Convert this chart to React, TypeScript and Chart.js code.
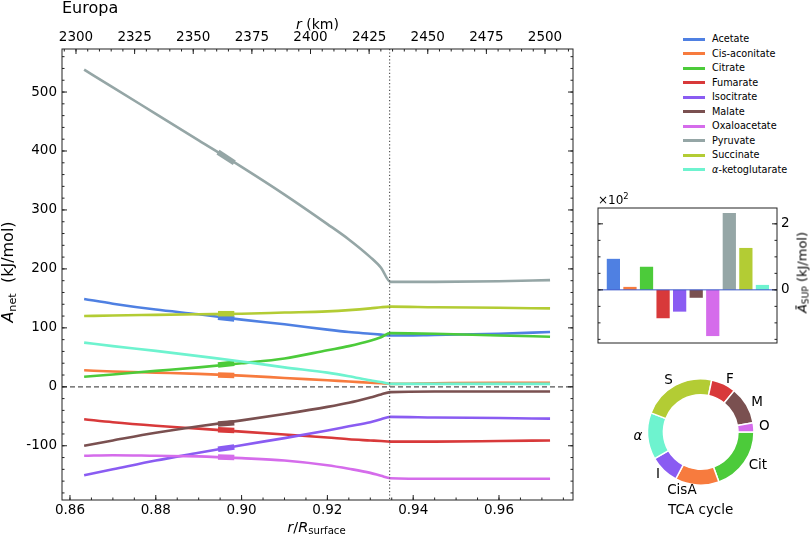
import { useEffect, useRef } from "react"
import { Chart, registerables } from "chart.js"

Chart.register(...registerables)

const FONT = "DejaVu Sans"

// r / R_surface sample positions shared by every series
const ratio = [0.8633, 0.87, 0.88, 0.89, 0.9, 0.91, 0.92, 0.925, 0.93, 0.9325, 0.9347, 0.945, 0.96, 0.9719]

// A_net (kJ/mol)
const acetate = [149, 141, 131, 123, 114, 106, 97, 93, 90, 88.5, 87, 88, 90, 93]
const cisAconitate = [28, 26, 24, 22, 19, 15, 11, 9, 7, 6, 5, 6, 7, 7]
const citrate = [17, 21, 27, 33, 40, 48, 62, 69, 78, 84, 91, 90, 87, 85]
const fumarate = [-55, -60, -66, -71, -76, -81, -86, -89, -91, -92, -93, -93, -92, -91]
const isocitrate = [-150, -140, -125, -112, -99, -87, -74, -67, -60, -55, -51, -52, -53, -54]
const malate = [-100, -91, -78, -67, -57, -46, -34, -27, -18, -13, -9, -8, -8, -8]
const oxaloacetate = [-117, -116, -117, -118, -121, -125, -133, -139, -146, -151, -155, -156, -156, -156]
const pyruvate = [538, 508, 463, 418, 373, 326, 276, 250, 220, 202, 178, 178, 179, 181]
const succinate = [120, 121, 122, 123, 124, 126, 128, 130, 133, 135, 136, 135, 134, 133]
const alphaKeto = [75, 69, 61, 52, 43, 33, 24, 18, 11, 8, 5, 5, 5, 5]

const seriesNames = ["Acetate", "Cis-aconitate", "Citrate", "Fumarate", "Isocitrate", "Malate", "Oxaloacetate", "Pyruvate", "Succinate", "α-ketoglutarate"]
const seriesColors = ["#4f80e2", "#f77b3e", "#4ccb3a", "#d8393a", "#8a5cf2", "#7a5050", "#d56ceb", "#95a6a6", "#b3cc34", "#6ef3cf"]
const seriesValues = [acetate, cisAconitate, citrate, fumarate, isocitrate, malate, oxaloacetate, pyruvate, succinate, alphaKeto]

// short thick segments drawn on the curves
const markerRatio = [0.8945, 0.8983]
const markerValues = [[118, 115], [20, 19], [37, 40], [-73, -74], [-106, -102], [-63, -61], [-119, -120], [398, 380], [124, 124], null]

const boundaryRatio = 0.9345

const xTicks = [0.86, 0.88, 0.9, 0.92, 0.94, 0.96]
const rTicks = [2300, 2325, 2350, 2375, 2400, 2425, 2450, 2475, 2500]
const yTicks = [-100, 0, 100, 200, 300, 400, 500]

// mean A_SUP (kJ/mol), same order as seriesNames
const supValues = [94, 9, 70, -86, -66, -24, -140, 233, 127, 15]
const supTicks = [0, 2]

// TCA ring, clockwise from 3 o'clock (degrees)
const tcaLabels = ["Cit", "CisA", "I", "α", "S", "F", "M", "O"]
const tcaShares = [70, 48, 32, 51, 81, 27, 41, 10]
const tcaColors = ["#4ccb3a", "#f77b3e", "#8a5cf2", "#6ef3cf", "#b3cc34", "#d8393a", "#7a5050", "#d56ceb"]

function steps(from: number, to: number, step: number) {
  const out: number[] = []
  for (let v = from; v <= to + 1e-9; v += step) out.push(+v.toFixed(6))
  return out
}

function seg(ctx: CanvasRenderingContext2D, x1: number, y1: number, x2: number, y2: number) {
  ctx.beginPath()
  ctx.moveTo(x1, y1)
  ctx.lineTo(x2, y2)
  ctx.stroke()
}

function yMarks(ctx: CanvasRenderingContext2D, a: any, scale: any, values: number[], len: number) {
  values.forEach((v) => {
    const p = scale.getPixelForValue(v)
    if (p < a.top - 0.5 || p > a.bottom + 0.5) return
    seg(ctx, a.left, p, a.left + len, p)
    seg(ctx, a.right, p, a.right - len, p)
  })
}

function xMarks(ctx: CanvasRenderingContext2D, a: any, scale: any, values: number[], len: number, top: boolean) {
  values.forEach((v) => {
    const p = scale.getPixelForValue(v)
    if (p < a.left - 0.5 || p > a.right + 0.5) return
    if (top) seg(ctx, p, a.top, p, a.top + len)
    else seg(ctx, p, a.bottom, p, a.bottom - len)
  })
}

const mainFrame = {
  id: "mainFrame",
  afterDatasetsDraw(chart: any) {
    const { ctx, chartArea: a, scales } = chart
    const y0 = scales.y.getPixelForValue(0)
    const xb = scales.x.getPixelForValue(boundaryRatio)
    ctx.save()
    ctx.strokeStyle = "#555"
    ctx.lineWidth = 1.3
    ctx.setLineDash([5, 3])
    seg(ctx, a.left, y0, a.right, y0)
    ctx.lineWidth = 1.2
    ctx.setLineDash([1.2, 2.2])
    seg(ctx, xb, a.top, xb, a.bottom)
    ctx.restore()
  },
  afterDraw(chart: any) {
    const { ctx, chartArea: a, scales } = chart
    ctx.save()
    ctx.strokeStyle = "#222"
    ctx.lineWidth = 1
    ctx.strokeRect(a.left, a.top, a.right - a.left, a.bottom - a.top)
    yMarks(ctx, a, scales.y, yTicks, 5)
    yMarks(ctx, a, scales.y, steps(-180, 560, 20), 2.5)
    xMarks(ctx, a, scales.x, xTicks, 5, false)
    xMarks(ctx, a, scales.x, steps(0.86, 0.975, 0.005), 2.5, false)
    xMarks(ctx, a, scales.x2, rTicks, 5, true)
    xMarks(ctx, a, scales.x2, steps(2295, 2510, 5), 2.5, true)
    ctx.restore()
  },
}

const tickFont = { family: FONT, size: 13.5 }

function MainChart() {
  const chartRef = useRef<HTMLCanvasElement>(null)
  const chartInstance = useRef<Chart | null>(null)

  useEffect(() => {
    if (!chartRef.current) return
    if (chartInstance.current) chartInstance.current.destroy()
    const ctx = chartRef.current.getContext("2d")
    if (!ctx) return

    const n = seriesNames.length
    const lines = seriesNames.map((name, i) => ({
      label: name,
      data: ratio.map((x, j) => ({ x, y: seriesValues[i][j] })),
      borderColor: seriesColors[i],
      borderWidth: 2.6,
      pointRadius: 0,
      cubicInterpolationMode: "monotone",
      order: n - i,
    }))
    const markers: any[] = []
    markerValues.forEach((vals, i) => {
      if (!vals) return
      markers.push({
        label: seriesNames[i] + " marker",
        data: markerRatio.map((x, j) => ({ x, y: vals[j] })),
        borderColor: seriesColors[i],
        borderWidth: 5.5,
        borderCapStyle: "butt",
        pointRadius: 0,
        order: n - i,
      })
    })

    chartInstance.current = new Chart(ctx, {
      type: "line",
      data: { datasets: [...lines, ...markers] as any },
      plugins: [mainFrame],
      options: {
        animation: false,
        responsive: false,
        events: [],
        layout: { padding: { left: 0, right: 27, top: 0, bottom: 0 } },
        plugins: { legend: { display: false }, tooltip: { enabled: false } },
        scales: {
          x: {
            type: "linear",
            position: "bottom",
            min: 0.85814,
            max: 0.97725,
            afterBuildTicks: (s: any) => { s.ticks = xTicks.map((value) => ({ value })) },
            afterFit: (s: any) => { s.height = 36 },
            ticks: { font: tickFont, color: "#000", padding: 2, maxRotation: 0, autoSkip: false, callback: (v: any) => Number(v).toFixed(2) },
            grid: { display: false, drawTicks: false },
            border: { display: false },
          },
          x2: {
            type: "linear",
            position: "top",
            min: 2294.03,
            max: 2511.94,
            afterBuildTicks: (s: any) => { s.ticks = rTicks.map((value) => ({ value })) },
            afterFit: (s: any) => { s.height = 49 },
            ticks: { font: tickFont, color: "#000", padding: 3, maxRotation: 0, autoSkip: false, callback: (v: any) => String(v) },
            grid: { display: false, drawTicks: false },
            border: { display: false },
          },
          y: {
            type: "linear",
            min: -192,
            max: 573,
            afterBuildTicks: (s: any) => { s.ticks = yTicks.map((value) => ({ value })) },
            afterFit: (s: any) => { s.width = 62 },
            ticks: { font: tickFont, color: "#000", padding: 5, autoSkip: false, callback: (v: any) => String(v) },
            grid: { display: false, drawTicks: false },
            border: { display: false },
          },
        },
      } as any,
    })

    return () => {
      if (chartInstance.current) {
        chartInstance.current.destroy()
        chartInstance.current = null
      }
    }
  }, [])

  return <canvas ref={chartRef} width={600} height={536} style={{ position: "absolute", left: 0, top: 0, width: 600, height: 536 }} />
}

const supFrame = {
  id: "supFrame",
  afterDraw(chart: any) {
    const { ctx, chartArea: a, scales } = chart
    const y0 = scales.y.getPixelForValue(0)
    ctx.save()
    ctx.strokeStyle = "#3a58cc"
    ctx.lineWidth = 1
    seg(ctx, a.left, y0, a.right, y0)
    ctx.strokeStyle = "#222"
    ctx.strokeRect(a.left, a.top, a.right - a.left, a.bottom - a.top)
    yMarks(ctx, a, scales.y, supTicks, 5)
    yMarks(ctx, a, scales.y, steps(-1.5, 2.5, 0.5), 2.5)
    ctx.restore()
  },
}

function SupChart() {
  const chartRef = useRef<HTMLCanvasElement>(null)
  const chartInstance = useRef<Chart | null>(null)

  useEffect(() => {
    if (!chartRef.current) return
    if (chartInstance.current) chartInstance.current.destroy()
    const ctx = chartRef.current.getContext("2d")
    if (!ctx) return

    chartInstance.current = new Chart(ctx, {
      type: "bar",
      data: {
        datasets: [
          {
            label: "A_SUP",
            data: supValues.map((v, i) => ({ x: i, y: v / 100 })),
            backgroundColor: seriesColors,
            borderWidth: 0,
            barPercentage: 0.8,
            categoryPercentage: 1,
          },
        ],
      },
      plugins: [supFrame],
      options: {
        animation: false,
        responsive: false,
        events: [],
        layout: { padding: { left: 8, right: 0, top: 18, bottom: 17 } },
        plugins: { legend: { display: false }, tooltip: { enabled: false } },
        scales: {
          x: { type: "linear", display: false, offset: false, min: -0.93, max: 9.88 },
          y: {
            type: "linear",
            position: "right",
            min: -1.61,
            max: 2.48,
            afterBuildTicks: (s: any) => { s.ticks = supTicks.map((value) => ({ value })) },
            afterFit: (s: any) => { s.width = 33 },
            ticks: { font: tickFont, color: "#000", padding: 4, callback: (v: any) => String(v) },
            grid: { display: false, drawTicks: false },
            border: { display: false },
          },
        },
      } as any,
    })

    return () => {
      if (chartInstance.current) {
        chartInstance.current.destroy()
        chartInstance.current = null
      }
    }
  }, [])

  return <canvas ref={chartRef} width={220} height={170} style={{ position: "absolute", left: 590, top: 190, width: 220, height: 170 }} />
}

const ringLabels = {
  id: "ringLabels",
  afterDatasetsDraw(chart: any) {
    const { ctx, chartArea } = chart
    const meta = chart.getDatasetMeta(0)
    ctx.save()
    ctx.fillStyle = "#000"
    ctx.textBaseline = "middle"
    let cx = 0
    meta.data.forEach((arc: any, i: number) => {
      const p = arc.getProps(["x", "y", "startAngle", "endAngle", "outerRadius"], true)
      cx = p.x
      const mid = (p.startAngle + p.endAngle) / 2
      const r = p.outerRadius * 1.1
      const lx = p.x + Math.cos(mid) * r
      const ly = p.y + Math.sin(mid) * r
      ctx.textAlign = Math.cos(mid) < -0.01 ? "right" : "left"
      const label = tcaLabels[i]
      ctx.font = (label === "α" ? "italic " : "") + `13.5px ${FONT}`
      ctx.fillText(label, lx, ly)
    })
    ctx.font = `13.5px ${FONT}`
    ctx.textAlign = "center"
    ctx.fillText("TCA cycle", cx, chartArea.bottom + 24)
    ctx.restore()
  },
}

function TcaRing() {
  const chartRef = useRef<HTMLCanvasElement>(null)
  const chartInstance = useRef<Chart | null>(null)

  useEffect(() => {
    if (!chartRef.current) return
    if (chartInstance.current) chartInstance.current.destroy()
    const ctx = chartRef.current.getContext("2d")
    if (!ctx) return

    chartInstance.current = new Chart(ctx, {
      type: "doughnut",
      data: {
        labels: tcaLabels,
        datasets: [{ data: tcaShares, backgroundColor: tcaColors, borderColor: "#fff", borderWidth: 1.5 }],
      },
      plugins: [ringLabels],
      options: {
        animation: false,
        responsive: false,
        events: [],
        rotation: 90,
        cutout: "70%",
        layout: { padding: { left: 46.7, right: 55.3, top: 8, bottom: 44 } },
        plugins: { legend: { display: false }, tooltip: { enabled: false } },
      } as any,
    })

    return () => {
      if (chartInstance.current) {
        chartInstance.current.destroy()
        chartInstance.current = null
      }
    }
  }, [])

  return <canvas ref={chartRef} width={210} height={160} style={{ position: "absolute", left: 600, top: 370, width: 210, height: 160 }} />
}

function Legend() {
  return (
    <>
      {seriesNames.map((name, i) => (
        <div key={name} style={{ position: "absolute", left: 683, top: 39.3 + i * 14.5 - 7, height: 14, display: "flex", alignItems: "center", whiteSpace: "nowrap" }}>
          <span style={{ display: "inline-block", width: 22, height: 2.8, background: seriesColors[i], marginRight: 7 }} />
          <span style={{ fontSize: 9.7, lineHeight: 1 }}>
            {name.startsWith("α") ? (<><i>α</i>{name.slice(1)}</>) : name}
          </span>
        </div>
      ))}
    </>
  )
}

const sub = { fontSize: "0.7em", position: "relative" as const, top: "0.24em" }

function Rotated({ cx, cy, size, children }: { cx: number; cy: number; size: number; children: any }) {
  const w = 200
  return (
    <div style={{ position: "absolute", left: cx - w / 2, top: cy - size / 2, width: w, height: size, fontSize: size, lineHeight: `${size}px`, textAlign: "center", whiteSpace: "pre", transform: "rotate(-90deg)" }}>
      {children}
    </div>
  )
}

export default function App() {
  return (
    <div style={{ position: "absolute", left: 0, top: 0, width: 810, height: 536, background: "#fff", overflow: "hidden", fontFamily: FONT, color: "#000" }}>
      <MainChart />
      <SupChart />
      <TcaRing />
      <Legend />
      <div style={{ position: "absolute", left: 62, top: 0, fontSize: 16, lineHeight: 1, whiteSpace: "nowrap" }}>Europa</div>
      <div style={{ position: "absolute", left: 217.5, top: 16.7, width: 200, textAlign: "center", fontSize: 14, lineHeight: 1, whiteSpace: "nowrap" }}>
        <i>r</i> (km)
      </div>
      <div style={{ position: "absolute", left: 216.5, top: 519.7, width: 200, textAlign: "center", fontSize: 14.5, lineHeight: 1, whiteSpace: "nowrap" }}>
        <i>r</i>/<i>R</i><span style={sub}>surface</span>
      </div>
      <Rotated cx={7.5} cy={272} size={16}>
        <i>A</i><span style={sub}>net</span>{"  (kJ/mol)"}
      </Rotated>
      <Rotated cx={801.5} cy={272.5} size={13}>
        <i>Ā</i><span style={sub}>SUP</span>{" (kJ/mol)"}
      </Rotated>
      <div style={{ position: "absolute", left: 598, top: 193.5, fontSize: 12, lineHeight: 1, whiteSpace: "nowrap" }}>
        ×10<span style={{ fontSize: "0.7em", position: "relative", top: "-0.5em" }}>2</span>
      </div>
    </div>
  )
}
